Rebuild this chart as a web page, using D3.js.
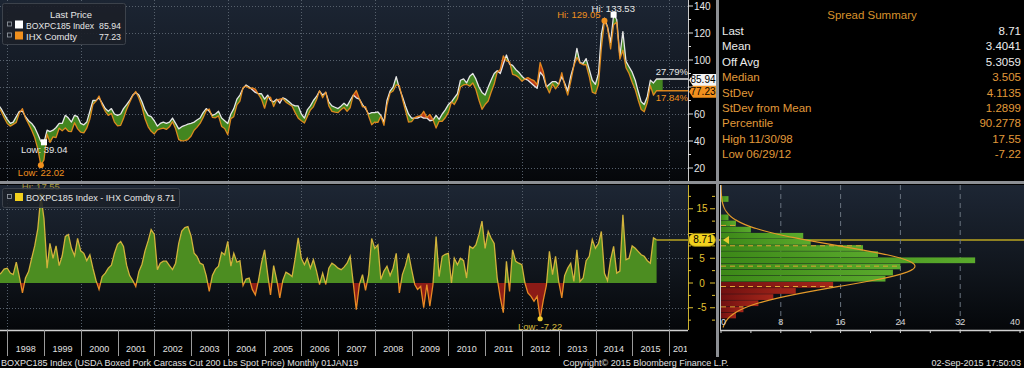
<!DOCTYPE html>
<html><head><meta charset="utf-8">
<script src="https://cdn.jsdelivr.net/npm/d3@7"></script>
<style>
html,body{margin:0;padding:0;background:#000;overflow:hidden}
svg{display:block;font-family:"Liberation Sans",Arial,sans-serif}
</style></head><body>
<svg id="c" width="1024" height="368"></svg>
<script>
// ---------------- DATA ----------------
// month-end observations, first = Sep 1997, last = Aug 2015
const firstMonth = [1997, 8];
const boxpc = [
67,64,60,56,53,54,58,62,62,58,55,53,
50,45,39.57,39.04,48,47,48,50,53,53,59,57,
54,59,58,53,52,54,62,70,70,72,68,64,
62,64,60,59,60,64,67,70,74,76,74,69,
63,59,58,55,51,53,54,53,54,57,53,49,
50.6,51.5,52.5,53,54,55.5,57,61,64,62,59,60,
62,57,55,53,60,64,71,74,79,81.5,80,78,
76,75,75,71,74,70,69,71,68,72,71,69,
67,66,66,60,57,63,66,70,73,77,74,76,
69,66,65,64,66,68,66,70,74,72,71,67,
64,60,61,61,61.5,59,54,70,77,80,87.6,79,
73,66,60,57,57,57,58,57,57,55,55.5,59,
56,60,63,67,69,72,75,85,86,83,88,90,
86,80,76,74,80,85,90,92,90,97,103.7,97,
96,93,91,88,86,85,83,81,79,91,88,80,
82,84,84,82,87.6,83,77,88,96,108.6,98,97.5,
101,93,85,82,90,119,131,124.7,113,133.53,130,103,
121,99,95,91,85,77,69,67,73,85,83,85.94];
const ihx = [
65.5,62,57.2,53,51,52.3,53.8,60.7,64,57,52.7,48,
42.5,34,22.02,26.04,45,39,43,42.5,49.5,47.5,49.6,47.2,
47,53.5,49,46.5,46,49.5,56.3,67,69.5,73.3,66.7,62,
59,60.4,54,51.2,51.6,56.6,63.4,68.5,73.5,76.7,71.7,65.2,
56.5,50.5,47.2,45.2,48.3,49,49.6,48.6,50.5,54.3,49,41,
40.1,40.3,41.1,43.5,48,50.1,53,57.3,62.5,63.7,57.5,57.2,
58.6,50.8,49.3,44.6,56.6,58,66.8,69.5,79.5,80.7,79,79.3,
78.4,74.5,71,64.3,72.3,72.4,65.5,70.3,71,71.5,68.8,67.2,
65.7,61,56.9,55,53.3,58,63,65.3,70.6,77.3,72,76.3,
66,62,61.4,61,63.3,64.8,62,64.6,74,77.4,71.3,65.3,
65.5,58.3,52,54,53.8,58.3,51.6,66.6,75.5,77,81.6,81,
71.3,62.5,54,54.3,57.3,58.3,58.7,62,57.3,59.7,55.8,49.6,
54.7,54.6,57.2,61,69,67,71.3,80,81.5,82,80.6,83,
78.3,70.2,63.5,67,69.6,75.9,82,91,93,103,99.3,98.7,
89.3,88.6,87,84.3,86,87,85.7,84.7,81.7,98.22,91.5,80.5,
75.6,82.3,78.6,81.7,90.6,81.5,74,84,95.7,101.9,97.7,96.5,
96.5,87.6,76.2,75,82,108.6,129.05,124.2,108.3,126.13,128,100.6,
107.2,94.3,90,83.5,78,70.6,63.3,61.6,68.5,81,73.9,77.23];
const years = [1997,1998,1999,2000,2001,2002,2003,2004,2005,2006,2007,2008,2009,2010,2011,2012,2013,2014,2015,2016];
const gridYears = [1998,2000,2002,2004,2006,2008,2010,2012,2014,2016];
const priceTicks = [20,40,60,80,100,120,140];
const spreadTicks = [-5,0,5,10,15];
const spreadGrid = [-5,5,10,15];
const histCounts = [2,3,5,7,10,15,22,23,24,34,21,19,12,11,4,2,1,0,0,1];
const histRange = [-7.22, 17.55];
const histTicks = [0,8,16,24,32,40];
const summaryLabels = ["Last","Mean","Off Avg","Median","StDev","StDev from Mean","Percentile","High 11/30/98","Low 06/29/12"];
const summaryValues = ["8.71","3.4041","5.3059","3.505","4.1135","1.2899","90.2778","17.55","-7.22"];
const spreadMean = 3.4041, spreadSd = 4.1135;
const legendNames = ["BOXPC185 Index","IHX Comdty"];
const legendValues = ["85.94","77.23"];
const pctChange = ["27.79%","17.84%"];

// ---------------- SETUP ----------------
const svg = d3.select("#c");
const W = 1024, H = 368, PR = 688;
const TOP0 = 0, TOP1 = 181, BOT0 = 185, BOT1 = 330;
const HX0 = 720;
const WHITE = "#e6e6e6", ORANGE = "#f0901e", YEL = "#e2c233";

const dates = boxpc.map((_, i) => new Date(firstMonth[0], firstMonth[1] + i + 1, 0));
const spread = boxpc.map((v, i) => +(v - ihx[i]).toFixed(2));
const pts = dates.map((d, i) => ({d, w: boxpc[i], o: ihx[i], s: spread[i]}));
const last = pts[pts.length - 1];

const x = d3.scaleTime().domain([new Date(1997, 9, 20), new Date(2016, 6, 8)]).range([0, PR]);
const yT = d3.scaleLinear().domain([20, 140]).range([168, 6]);
const yS = d3.scaleLinear().domain([0, 15]).range([283, 283 - 15 * 4.95]);
const xh = d3.scaleLinear().domain([0, 40]).range([721, 1020]);

const defs = svg.append("defs");
function vgrad(id, stops, horiz) {
  const g = defs.append("linearGradient").attr("id", id)
    .attr("x1", 0).attr("y1", 0).attr("x2", horiz ? 1 : 0).attr("y2", horiz ? 0 : 1);
  stops.forEach(s => g.append("stop").attr("offset", s[0]).attr("stop-color", s[1]));
}
vgrad("bgTop", [[0, "#1c2533"], [0.6, "#10151d"], [1, "#05070a"]]);
vgrad("bgBot", [[0, "#1d2634"], [0.6, "#10151c"], [1, "#05070a"]]);
vgrad("hGreen", [[0, "#3c8818"], [1, "#5aaa2c"]], true);
vgrad("hRed", [[0, "#701010"], [1, "#a5261a"]], true);
function clipRect(id, x0, y0, w, h) {
  defs.append("clipPath").attr("id", id).append("rect").attr("x", x0).attr("y", y0).attr("width", w).attr("height", h);
}
clipRect("cTop", 0, TOP0, PR, TOP1 - TOP0);
clipRect("cBot", 0, BOT0, PR, BOT1 - BOT0);
clipRect("cBotPos", 0, BOT0, PR, yS(0) - BOT0);
clipRect("cBotNeg", 0, yS(0), PR, BOT1 - yS(0));
clipRect("cHist", HX0, BOT0, W - HX0, BOT1 - BOT0);
clipRect("cAxis", 0, 330, PR - 1, 38);

svg.append("rect").attr("width", W).attr("height", H).attr("fill", "#000");
svg.append("rect").attr("x", 0).attr("y", TOP0).attr("width", PR).attr("height", TOP1 - TOP0).attr("fill", "url(#bgTop)");
svg.append("rect").attr("x", 0).attr("y", BOT0).attr("width", PR).attr("height", BOT1 - BOT0).attr("fill", "url(#bgBot)");
svg.append("rect").attr("x", HX0).attr("y", BOT0).attr("width", W - HX0).attr("height", BOT1 - BOT0).attr("fill", "url(#bgBot)");

// ---------------- GRID ----------------
const grid = svg.append("g").attr("stroke", "#56606c").attr("stroke-width", 1).attr("stroke-dasharray", "1,2");
gridYears.forEach(yr => {
  const gx = Math.round(x(new Date(yr, 0, 1))) + 0.5;
  if (gx < PR) {
    grid.append("line").attr("x1", gx).attr("x2", gx).attr("y1", TOP0).attr("y2", TOP1);
    grid.append("line").attr("x1", gx).attr("x2", gx).attr("y1", BOT0).attr("y2", BOT1);
  }
});
priceTicks.forEach(v => {
  const gy = Math.round(yT(v)) + 0.5;
  grid.append("line").attr("x1", 0).attr("x2", PR).attr("y1", gy).attr("y2", gy);
});
spreadGrid.forEach(v => {
  const gy = Math.round(yS(v)) + 0.5;
  grid.append("line").attr("x1", 0).attr("x2", PR).attr("y1", gy).attr("y2", gy);
});

// ---------------- TOP CHART ----------------
const fillEnd = new Date(2015, 10, 1);
const ptsFill = pts.concat([{d: fillEnd, w: last.w, o: last.o}]);
const ptsLine = pts.concat([{d: x.domain()[1], w: last.w, o: last.o}]);
defs.append("clipPath").attr("id", "belowW").append("path")
  .attr("d", d3.area().x(p => x(p.d)).y0(p => yT(p.w)).y1(TOP1)(ptsFill));
defs.append("clipPath").attr("id", "aboveW").append("path")
  .attr("d", d3.area().x(p => x(p.d)).y0(TOP0).y1(p => yT(p.w))(ptsFill));
const gTop = svg.append("g").attr("clip-path", "url(#cTop)");
gTop.append("g").attr("clip-path", "url(#belowW)").append("path")
  .attr("d", d3.area().x(p => x(p.d)).y0(TOP0).y1(p => yT(p.o))(ptsFill)).attr("fill", "#438620");
gTop.append("g").attr("clip-path", "url(#aboveW)").append("path")
  .attr("d", d3.area().x(p => x(p.d)).y0(p => yT(p.o)).y1(TOP1)(ptsFill)).attr("fill", "#bb3a1a");
gTop.append("path").attr("d", d3.line().x(p => x(p.d)).y(p => yT(p.w))(ptsLine))
  .attr("fill", "none").attr("stroke", WHITE).attr("stroke-width", 1.3).attr("stroke-linejoin", "round");
gTop.append("path").attr("d", d3.line().x(p => x(p.d)).y(p => yT(p.o))(ptsLine))
  .attr("fill", "none").attr("stroke", ORANGE).attr("stroke-width", 1.3).attr("stroke-linejoin", "round").attr("opacity", 0.9);

// hi / low annotations
function idxOf(arr, fn) { let b = 0; arr.forEach((v, i) => { if (fn(v, arr[b])) b = i; }); return b; }
const iWmax = idxOf(boxpc, (a, b) => a > b), iWmin = idxOf(boxpc, (a, b) => a < b);
const iOmax = idxOf(ihx, (a, b) => a > b), iOmin = idxOf(ihx, (a, b) => a < b);
const ann = svg.append("g").attr("font-size", 9.5);
function sq(px, py, c) { ann.append("rect").attr("x", px - 3).attr("y", py - 3).attr("width", 6).attr("height", 6).attr("fill", c); }
function dot(px, py, c) { ann.append("circle").attr("cx", px).attr("cy", py).attr("r", 3).attr("fill", c); }
{
  let px = x(dates[iWmax]), py = yT(boxpc[iWmax]);
  sq(px, py, "#fff");
  ann.append("text").attr("x", px - 22).attr("y", py - 3).attr("fill", WHITE).text("Hi: " + boxpc[iWmax].toFixed(2));
  px = x(dates[iOmax]); py = yT(ihx[iOmax]);
  dot(px, py, ORANGE);
  ann.append("text").attr("x", px - 4).attr("y", py - 3).attr("text-anchor", "end").attr("fill", ORANGE).text("Hi: " + ihx[iOmax].toFixed(2));
  px = x(dates[iWmin]); py = yT(boxpc[iWmin]);
  sq(px, py, "#fff");
  ann.append("text").attr("x", px - 23).attr("y", py + 11).attr("fill", WHITE).text("Low: " + boxpc[iWmin].toFixed(2));
  px = x(dates[iOmin]); py = yT(ihx[iOmin]);
  dot(px, py, ORANGE);
  ann.append("text").attr("x", px - 23).attr("y", py + 11).attr("fill", ORANGE).text("Low: " + ihx[iOmin].toFixed(2));
}
ann.append("text").attr("x", PR).attr("y", yT(last.w) - 4).attr("text-anchor", "end").attr("fill", WHITE).text(pctChange[0]);
ann.append("text").attr("x", PR).attr("y", yT(last.o) + 10).attr("text-anchor", "end").attr("fill", ORANGE).text(pctChange[1]);

// top legend
const lg = svg.append("g");
lg.append("rect").attr("x", 2.5).attr("y", 3.5).attr("width", 123).attr("height", 41).attr("rx", 2)
  .attr("fill", "#1b2028").attr("fill-opacity", 0.92).attr("stroke", "#3c424b");
lg.append("text").attr("x", 71).attr("y", 18).attr("text-anchor", "middle").attr("font-size", 9.5).attr("fill", WHITE).text("Last Price");
function legIcon(g, ly, col) {
  g.append("rect").attr("x", 7.5).attr("y", ly - 6.5).attr("width", 4).attr("height", 4).attr("fill", "none").attr("stroke", "#9aa0a8").attr("stroke-width", 0.8);
  g.append("rect").attr("x", 15).attr("y", ly - 8).attr("width", 8).attr("height", 8).attr("fill", col);
}
legendNames.forEach((n, i) => {
  const ly = 28.5 + i * 11;
  legIcon(lg, ly, i === 0 ? "#ffffff" : ORANGE);
  const t = lg.append("text").attr("x", 26).attr("y", ly).attr("font-size", 9.5).attr("fill", WHITE).text(n);
  if (i === 0) t.attr("textLength", 68).attr("lengthAdjust", "spacingAndGlyphs");
  else t.attr("textLength", 51).attr("lengthAdjust", "spacingAndGlyphs");
  lg.append("text").attr("x", 121).attr("y", ly).attr("text-anchor", "end").attr("font-size", 9.5)
    .attr("textLength", 22).attr("lengthAdjust", "spacingAndGlyphs").attr("fill", WHITE).text(legendValues[i]);
});

// ---------------- BOTTOM CHART ----------------
const gBot = svg.append("g").attr("clip-path", "url(#cBot)");
const sArea = d3.area().x(p => x(p.d)).y0(yS(0)).y1(p => yS(p.s));
const sLine = d3.line().x(p => x(p.d)).y(p => yS(p.s));
gBot.append("g").attr("clip-path", "url(#cBotPos)").append("path").attr("d", sArea(pts)).attr("fill", "#4c8d21");
gBot.append("g").attr("clip-path", "url(#cBotNeg)").append("path").attr("d", sArea(pts)).attr("fill", "#8c1b16");
gBot.append("g").attr("clip-path", "url(#cBotPos)").append("path").attr("d", sLine(pts))
  .attr("fill", "none").attr("stroke", "#d2b33c").attr("stroke-width", 1.3);
gBot.append("g").attr("clip-path", "url(#cBotNeg)").append("path").attr("d", sLine(pts))
  .attr("fill", "none").attr("stroke", "#e88a24").attr("stroke-width", 1.3);

// last value line through histogram
svg.append("line").attr("x1", x(last.d)).attr("x2", W).attr("y1", yS(last.s)).attr("y2", yS(last.s))
  .attr("stroke", "#b9a421").attr("stroke-width", 1.5);

// spread hi/low
{
  const iSmax = idxOf(spread, (a, b) => a > b), iSmin = idxOf(spread, (a, b) => a < b);
  let px = x(dates[iSmin]), py = yS(spread[iSmin]);
  svg.append("circle").attr("cx", px).attr("cy", py).attr("r", 2.6).attr("fill", "#f0d030");
  svg.append("text").attr("x", px).attr("y", py + 11).attr("text-anchor", "middle").attr("font-size", 9.5).attr("fill", "#d8bc3c").text("Low: " + spread[iSmin].toFixed(2));
  px = x(dates[iSmax]); py = yS(spread[iSmax]);
  svg.append("circle").attr("cx", px).attr("cy", py).attr("r", 2.6).attr("fill", "#f0d030");
  svg.append("text").attr("x", px - 19).attr("y", py - 6).attr("font-size", 9.5).attr("fill", "#a8963a").text("Hi: " + spread[iSmax].toFixed(2));
}
// bottom legend
const lg2 = svg.append("g");
lg2.append("rect").attr("x", 2.5).attr("y", 188.5).attr("width", 177).attr("height", 19).attr("rx", 2)
  .attr("fill", "#1b2028").attr("fill-opacity", 0.85).attr("stroke", "#3c424b");
legIcon(lg2, 201, "#f2d01e");
lg2.append("text").attr("x", 26).attr("y", 201).attr("font-size", 9.5).attr("fill", WHITE)
  .attr("textLength", 149).attr("lengthAdjust", "spacingAndGlyphs")
  .text(legendNames[0] + " - " + legendNames[1] + " " + last.s.toFixed(2));

// ---------------- HISTOGRAM ----------------
const gH = svg.append("g").attr("clip-path", "url(#cHist)");
const hg = gH.append("g").attr("stroke", "#6a7480").attr("stroke-dasharray", "5,4").attr("stroke-width", 1);
histTicks.slice(1, -1).forEach(t => hg.append("line").attr("x1", xh(t)).attr("x2", xh(t)).attr("y1", BOT0).attr("y2", BOT1));
const binW = (histRange[1] - histRange[0]) / histCounts.length;
histCounts.forEach((c, k) => {
  const lo = histRange[0] + k * binW, hi = lo + binW;
  if (c <= 0) return;
  gH.append("rect").attr("x", xh(0)).attr("y", yS(hi)).attr("width", xh(c) - xh(0)).attr("height", yS(lo) - yS(hi) - 0.4)
    .attr("fill", (lo + hi) / 2 < 0 ? "url(#hRed)" : "url(#hGreen)");
});
// sd lines
[-2, -1, 0, 1, 2].forEach(m => {
  const v = spreadMean + m * spreadSd;
  const k = Math.floor((v - histRange[0]) / binW);
  const c = histCounts[k] || 0;
  gH.append("line").attr("x1", xh(0)).attr("x2", xh(c)).attr("y1", yS(v)).attr("y2", yS(v))
    .attr("stroke", "#e0a434").attr("stroke-width", 1).attr("stroke-dasharray", "5,4");
});
const nTot = d3.sum(histCounts);
const curve = d3.range(-9, 20.01, 0.1).map(v => ({v, c: nTot * binW * Math.exp(-0.5 * ((v - spreadMean) / spreadSd) ** 2) / (spreadSd * Math.sqrt(2 * Math.PI))}));
gH.append("path").attr("d", d3.line().x(p => xh(p.c)).y(p => yS(p.v))(curve))
  .attr("fill", "none").attr("stroke", "#e39a2a").attr("stroke-width", 1.2);
// left marker
svg.append("path").attr("d", `M${xh(0) + 2},${yS(last.s)} l6,-4 v8 z`).attr("fill", "#e8cc30");
// histogram axes
svg.append("line").attr("x1", HX0 + 0.5).attr("x2", HX0 + 0.5).attr("y1", BOT0).attr("y2", BOT1).attr("stroke", "#c8c8c8");
svg.append("line").attr("x1", HX0).attr("x2", W).attr("y1", BOT1 + 0.5).attr("y2", BOT1 + 0.5).attr("stroke", "#d0d0d0").attr("stroke-width", 1.5);
d3.range(0, 41, 4).forEach(t => {
  svg.append("line").attr("x1", xh(t)).attr("x2", xh(t)).attr("y1", BOT1).attr("y2", BOT1 + 3).attr("stroke", "#d0d0d0");
});
histTicks.forEach((t, i) => {
  svg.append("text").attr("x", xh(t)).attr("y", 325).attr("text-anchor", i === 0 ? "start" : (i === histTicks.length - 1 ? "end" : "middle"))
    .attr("font-size", 9).attr("fill", "#d8d8d8").text(t);
});

// ---------------- SEPARATORS ----------------
svg.append("rect").attr("x", 0).attr("y", TOP1).attr("width", W).attr("height", 3).attr("fill", "#8c8f94");
svg.append("rect").attr("x", 716).attr("y", 0).attr("width", 3).attr("height", 357).attr("fill", "#8c8f94");

// ---------------- RIGHT AXES ----------------
svg.append("line").attr("x1", PR + 0.5).attr("x2", PR + 0.5).attr("y1", TOP0).attr("y2", TOP1).attr("stroke", "#c8c8c8");
d3.range(20, 141, 10).forEach(v => {
  const major = priceTicks.includes(v);
  svg.append("line").attr("x1", PR).attr("x2", PR + (major ? 5 : 3)).attr("y1", yT(v)).attr("y2", yT(v)).attr("stroke", "#e0e0e0");
});
const topTagYs = [yT(last.w) + 1, yT(last.o) + 1];
priceTicks.forEach(v => {
  if (topTagYs.some(t => Math.abs(t - yT(v)) < 10)) return; // hidden behind value tags
  svg.append("text").attr("x", 694).attr("y", yT(v) + 3.5).attr("font-size", 10).attr("fill", "#e8e8e8").text(v);
});
function tag(ty, col, txt, pointed) {
  const g = svg.append("g");
  const path = pointed
    ? `M${PR + 1},${ty} L${PR + 5},${ty - 6} H716 V${ty + 6} H${PR + 5} Z`
    : `M${PR + 7},${ty - 6.5} H709 A6.5,6.5 0 0 1 709,${ty + 6.5} H${PR + 7} A6.5,6.5 0 0 1 ${PR + 7},${ty - 6.5} Z`;
  g.append("path").attr("d", path).attr("fill", col).attr("stroke", pointed ? "none" : "#8a7a10").attr("stroke-width", 0.8);
  g.append("text").attr("x", 703).attr("y", ty + 3.5).attr("text-anchor", "middle").attr("font-size", 10).attr("fill", "#000").text(txt);
}
tag(topTagYs[0], "#f4f4f4", last.w.toFixed(2), true);
tag(topTagYs[1], ORANGE, last.o.toFixed(2), true);

svg.append("line").attr("x1", PR + 0.5).attr("x2", PR + 0.5).attr("y1", BOT0).attr("y2", BOT1).attr("stroke", "#c8b030");
d3.range(-7.5, 17.6, 2.5).forEach(v => {
  const major = spreadTicks.includes(v);
  svg.append("line").attr("x1", PR).attr("x2", PR + (major ? 5 : 3)).attr("y1", yS(v)).attr("y2", yS(v)).attr("stroke", YEL);
  svg.append("line").attr("x1", 715).attr("x2", 715 - (major ? 5 : 3)).attr("y1", yS(v)).attr("y2", yS(v)).attr("stroke", YEL);
});
spreadTicks.forEach(v => {
  if (Math.abs(yS(v) - yS(last.s)) < 10) return; // hidden behind value tag
  svg.append("text").attr("x", 702).attr("y", yS(v) + 3.5).attr("text-anchor", "middle").attr("font-size", 10).attr("fill", YEL).text(v);
});
tag(yS(last.s), "#f2d21e", last.s.toFixed(2), false);

// ---------------- X AXIS ----------------
svg.append("line").attr("x1", 0).attr("x2", PR).attr("y1", BOT1 + 0.5).attr("y2", BOT1 + 0.5).attr("stroke", "#d0d0d0").attr("stroke-width", 1.5);
const gx = svg.append("g").attr("clip-path", "url(#cAxis)");
years.forEach(yr => {
  const tx = Math.round(x(new Date(yr, 0, 1))) + 0.5;
  gx.append("line").attr("x1", tx).attr("x2", tx).attr("y1", BOT1).attr("y2", 356).attr("stroke", "#9a9a9a");
  const cx = (x(new Date(yr, 0, 1)) + x(new Date(yr + 1, 0, 1))) / 2;
  gx.append("text").attr("x", Math.min(cx, 683)).attr("y", 352).attr("text-anchor", "middle").attr("font-size", 9).attr("fill", "#e0e0e0").text(yr);
});

// ---------------- SUMMARY ----------------
svg.append("text").attr("x", 872).attr("y", 19).attr("text-anchor", "middle").attr("font-size", 11.5).attr("fill", "#d8922c").text("Spread Summary");
summaryLabels.forEach((l, i) => {
  const col = i < 3 ? "#ececec" : "#e09a3a";
  const ty = 35 + i * 15.4;
  svg.append("text").attr("x", 722).attr("y", ty).attr("font-size", 11.5).attr("fill", col).text(l);
  svg.append("text").attr("x", 1021).attr("y", ty).attr("text-anchor", "end").attr("font-size", 11.5).attr("fill", col).text(summaryValues[i]);
});

// ---------------- FOOTER ----------------
svg.append("text").attr("x", 1).attr("y", 366).attr("font-size", 9).attr("fill", "#e0e0e0")
  .text("BOXPC185 Index (USDA Boxed Pork Carcass Cut 200 Lbs Spot Price)  Monthly 01JAN19");
svg.append("text").attr("x", 563).attr("y", 366).attr("font-size", 9).attr("fill", "#e0e0e0").text("Copyright\u00A9 2015 Bloomberg Finance L.P.");
svg.append("text").attr("x", 1021).attr("y", 366).attr("text-anchor", "end").attr("font-size", 9).attr("fill", "#e0e0e0").text("02-Sep-2015 17:50:03");
</script>
</body></html>
